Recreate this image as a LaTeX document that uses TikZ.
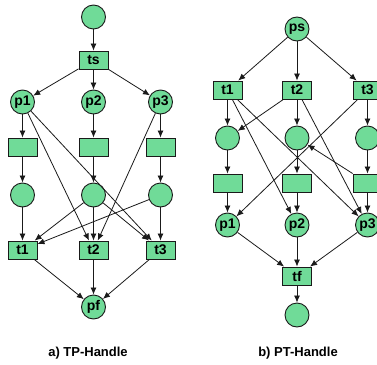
\documentclass[tikz,border=0pt]{standalone}
\usepackage{fontspec}
\setmainfont{Liberation Sans}
\usetikzlibrary{arrows.meta}
\definecolor{netgreen}{HTML}{70DB98}
\definecolor{netline}{HTML}{1A1A1A}
\tikzset{
  place/.style={circle, draw=netline, fill=netgreen, line width=0.9pt,
    minimum size=24pt, inner sep=0pt, font=\fontsize{14}{16}\selectfont\bfseries},
  trans/.style={rectangle, draw=netline, fill=netgreen, line width=0.9pt,
    minimum width=29pt, minimum height=18pt, inner sep=0pt,
    font=\fontsize{14}{16}\selectfont\bfseries},
  arc/.style={draw=netline, line width=0.8pt, -{Latex[length=7pt,width=6pt]}},
  caption/.style={font=\fontsize{13}{15}\selectfont\bfseries}
}
\begin{document}
\begin{tikzpicture}[x=1pt, y=-1pt]
\useasboundingbox (0,0) rectangle (377,364);
\begin{scope}
\clip (0,0) rectangle (377,364);

% ---------- a) TP-Handle ----------
\node[place] (a0) at (93.5,17) {};
\node[trans] (ts) at (93.5,60) {ts};
\node[place] (ap1) at (22.5,102) {p1};
\node[place] (ap2) at (93.5,102) {p2};
\node[place] (ap3) at (160.5,102) {p3};
\node[trans] (ab1) at (22.5,147) {};
\node[trans] (ab2) at (93.5,147) {};
\node[trans] (ab3) at (160.5,147) {};
\node[place] (ac1) at (22.5,195) {};
\node[place] (ac2) at (93.5,195) {};
\node[place] (ac3) at (160.5,195) {};
\node[trans] (at1) at (22.5,250) {t1};
\node[trans] (at2) at (93.5,250) {t2};
\node[trans] (at3) at (160.5,250) {t3};
\node[place] (pf) at (93.5,307) {pf};

\draw[arc] (a0) -- (ts);
\draw[arc] (ts) -- (ap1);
\draw[arc] (ts) -- (ap2);
\draw[arc] (ts) -- (ap3);
\draw[arc] (ap1) -- (ab1);
\draw[arc] (ap2) -- (ab2);
\draw[arc] (ap3) -- (ab3);
\draw[arc] (ab1) -- (ac1);
\draw[arc] (ab2) -- (ac2);
\draw[arc] (ab3) -- (ac3);
\draw[arc] (ac1) -- (at1);
\draw[arc] (ac2) -- (at1);
\draw[arc] (ac2) -- (at2);
\draw[arc] (ac2) -- (at3);
\draw[arc] (ac3) -- (at1);
\draw[arc] (ac3) -- (at3);
\draw[arc] (ap1) -- (at2);
\draw[arc] (ap1) -- (at3);
\draw[arc] (ap3) -- (at2);
\draw[arc] (at1) -- (pf);
\draw[arc] (at2) -- (pf);
\draw[arc] (at3) -- (pf);

% ---------- b) PT-Handle ----------
\node[place] (ps) at (297,29) {ps};
\node[trans] (bt1) at (227.5,90) {t1};
\node[trans] (bt2) at (297,90) {t2};
\node[trans] (bt3) at (367.5,90) {t3};
\node[place] (bc1) at (227.5,138) {};
\node[place] (bc2) at (297,138) {};
\node[place] (bc3) at (367.5,138) {};
\node[trans] (bb1) at (227.5,183) {};
\node[trans] (bb2) at (297,183) {};
\node[trans] (bb3) at (367.5,183) {};
\node[place] (bp1) at (227.5,225) {p1};
\node[place] (bp2) at (297,225) {p2};
\node[place] (bp3) at (367.5,225) {p3};
\node[trans] (tf) at (297,276) {tf};
\node[place] (b0) at (297,315) {};

\draw[arc] (ps) -- (bt1);
\draw[arc] (ps) -- (bt2);
\draw[arc] (ps) -- (bt3);
\draw[arc] (bt1) -- (bc1);
\draw[arc] (bt2) -- (bc2);
\draw[arc] (bt3) -- (bc3);
\draw[arc] (bt2) -- (bc1);
\draw[arc] (bt1) -- (bp2);
\draw[arc] (bt1) -- (bp3);
\draw[arc] (bt2) -- (bp3);
\draw[arc] (bt3) -- (bp1);
\draw[arc] (bc1) -- (bb1);
\draw[arc] (bc2) -- (bb2);
\draw[arc] (bc3) -- (bb3);
\draw[arc] (bb3) -- (bc2);
\draw[arc] (bb1) -- (bp1);
\draw[arc] (bb2) -- (bp2);
\draw[arc] (bb3) -- (bp3);
\draw[arc] (bp1) -- (tf);
\draw[arc] (bp2) -- (tf);
\draw[arc] (bp3) -- (tf);
\draw[arc] (tf) -- (b0);
\end{scope}

% captions
\node[caption] (capa) at (88,353) {a) TP-Handle};
\node[caption] (capb) at (298,353) {b) PT-Handle};
\end{tikzpicture}
\end{document}
